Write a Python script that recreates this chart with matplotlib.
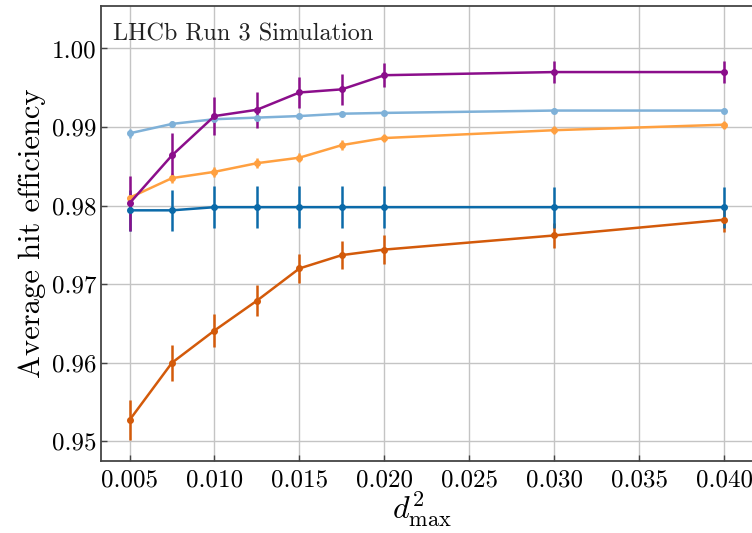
import numpy as np
import matplotlib
matplotlib.use("Agg")
import matplotlib.pyplot as plt

plt.rcParams['font.family'] = 'serif'
plt.rcParams['font.serif'] = ['cmr10']
plt.rcParams['mathtext.fontset'] = 'cm'
plt.rcParams['axes.formatter.use_mathtext'] = True

# d^2_max scan points
d2max = [0.005, 0.0075, 0.010, 0.0125, 0.015, 0.0175, 0.020, 0.030, 0.040]

# average hit efficiency and uncertainty for each configuration
eff_a = [0.9794, 0.9794, 0.9798, 0.9798, 0.9798, 0.9798, 0.9798, 0.9798, 0.9798]
err_a = [0.0026, 0.0026, 0.0027, 0.0027, 0.0027, 0.0027, 0.0027, 0.0026, 0.0026]

eff_b = [0.9527, 0.9600, 0.9641, 0.9679, 0.9720, 0.9737, 0.9744, 0.9762, 0.9782]
err_b = [0.0025, 0.0023, 0.0021, 0.0020, 0.0019, 0.0018, 0.0018, 0.0016, 0.0015]

eff_c = [0.9810, 0.9835, 0.9843, 0.9854, 0.9861, 0.9877, 0.9886, 0.9896, 0.9903]
err_c = [0.0004, 0.0006, 0.0006, 0.0006, 0.0006, 0.0006, 0.0005, 0.0005, 0.0005]

eff_d = [0.9892, 0.9904, 0.9910, 0.9912, 0.9914, 0.9917, 0.9918, 0.9921, 0.9921]
err_d = [0.0006, 0.0004, 0.0003, 0.0003, 0.0003, 0.0003, 0.0003, 0.0003, 0.0003]

eff_e = [0.9803, 0.9864, 0.9914, 0.9922, 0.9944, 0.9948, 0.9966, 0.9970, 0.9970]
err_e = [0.0035, 0.0029, 0.0024, 0.0023, 0.0020, 0.0020, 0.0015, 0.0014, 0.0014]

fig = plt.figure(figsize=(7.52, 5.33), dpi=100)
ax = fig.add_axes([101/752, 72/533, (775-101)/752, (461-6)/533])

series = [
    (eff_b, err_b, '#d35a0a'),
    (eff_a, err_a, '#0b6aa9'),
    (eff_c, err_c, '#ffa040'),
    (eff_d, err_d, '#7fb1d8'),
    (eff_e, err_e, '#8b0e8b'),
]
for eff, err, col in series:
    ax.errorbar(d2max, eff, yerr=err, color=col, marker='o', ms=4,
                lw=1.8, elinewidth=1.8, capsize=0)

ax.set_xlim(0.00332, 0.0430)
ax.set_ylim(0.94749, 1.00541)
ax.set_xticks([0.005, 0.010, 0.015, 0.020, 0.025, 0.030, 0.035, 0.040])
ax.set_yticks([0.95, 0.96, 0.97, 0.98, 0.99, 1.00])
ax.xaxis.set_major_formatter(matplotlib.ticker.FormatStrFormatter('%.3f'))
ax.yaxis.set_major_formatter(matplotlib.ticker.FormatStrFormatter('%.2f'))
ax.tick_params(direction='in', labelsize=18, length=4, width=1, color='#444444')
ax.tick_params(axis='x', pad=6)
ax.grid(True, color='#c4c4c4', lw=1)
ax.set_axisbelow(True)
for s in ax.spines.values():
    s.set_color('#444444')
    s.set_linewidth(1.3)

ax.set_ylabel('Average hit efficiency', fontsize=22)
ax.yaxis.set_label_coords(-0.082, 0.5)
ax.set_xlabel(r'$d^2_{\mathrm{max}}$', fontsize=23)
ax.xaxis.set_label_coords(0.476, -0.062)
ax.text(0.0040, 1.0018, 'LHCb Run 3 Simulation', fontsize=17.5, color='#222222',
        va='center', ha='left')

fig.savefig('out.png', dpi=100)
